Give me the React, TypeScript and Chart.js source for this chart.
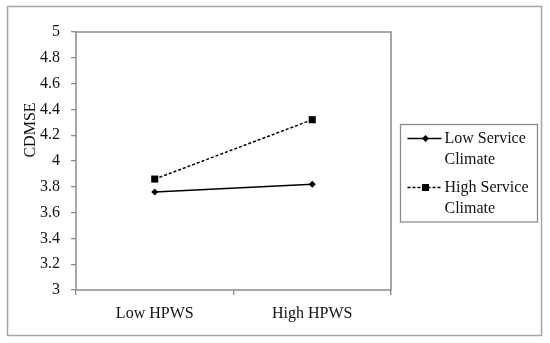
import React, { useEffect, useRef } from "react";
import { Chart, registerables } from "chart.js";

Chart.register(...registerables);

// ---- data ----
const categories = ["Low HPWS", "High HPWS"];
const lowServiceClimate = [3.76, 3.82];
const highServiceClimate = [3.86, 4.32];
const seriesNames = ["Low Service Climate", "High Service Climate"];
const legendLines = [
  ["Low Service", "Climate"],
  ["High Service", "Climate"],
];
const yTitle = "CDMSE";
const yMin = 3;
const yMax = 5;
const yStep = 0.2;

const FONT_FAMILY = "'Liberation Serif', 'Times New Roman', serif";
const GRAY = "#8a8a8a";
const FRAME_GRAY = "#a6a6a6";
const TEXT = "#111111";

function drawDiamond(ctx: CanvasRenderingContext2D, x: number, y: number, r: number) {
  ctx.beginPath();
  ctx.moveTo(x, y - r);
  ctx.lineTo(x + r, y);
  ctx.lineTo(x, y + r);
  ctx.lineTo(x - r, y);
  ctx.closePath();
  ctx.fill();
}

function drawSquare(ctx: CanvasRenderingContext2D, x: number, y: number, half: number) {
  ctx.fillRect(x - half, y - half, half * 2, half * 2);
}

const decor = {
  id: "decor",
  beforeDraw(chart: any) {
    const { ctx, width, height } = chart;
    ctx.save();
    ctx.fillStyle = "#ffffff";
    ctx.fillRect(0, 0, width, height);
    ctx.restore();
  },
  beforeDatasetsDraw(chart: any) {
    const { ctx, chartArea: a } = chart;
    ctx.save();
    ctx.strokeStyle = GRAY;
    ctx.lineWidth = 1.5;
    ctx.strokeRect(a.left, a.top, a.right - a.left, a.bottom - a.top);
    ctx.restore();
  },
  afterDraw(chart: any) {
    const { ctx, chartArea: a, width, height } = chart;
    ctx.save();
    // outer frame
    ctx.strokeStyle = FRAME_GRAY;
    ctx.lineWidth = 1.5;
    ctx.strokeRect(7.5, 6.5, width - 16, height - 14);

    // y axis title (Excel-style, above centre)
    ctx.fillStyle = TEXT;
    ctx.font = `16px ${FONT_FAMILY}`;
    ctx.textAlign = "center";
    ctx.textBaseline = "middle";
    ctx.save();
    ctx.translate(30.5, a.top + 98);
    ctx.rotate(-Math.PI / 2);
    ctx.fillText(yTitle, 0, 0);
    ctx.restore();

    // legend
    const L = a.right + 9.5;
    const T = 124.5;
    const W = 137;
    const H = 97.5;
    ctx.strokeStyle = GRAY;
    ctx.lineWidth = 1.3;
    ctx.strokeRect(L, T, W, H);

    const rows = [
      { y: T + 14, dash: [] as number[], marker: "diamond" },
      { y: T + 63, dash: [3, 2], marker: "square" },
    ];
    rows.forEach((row, i) => {
      ctx.strokeStyle = "#000";
      ctx.fillStyle = "#000";
      ctx.lineWidth = 1.5;
      ctx.setLineDash(row.dash);
      ctx.beginPath();
      ctx.moveTo(L + 7, row.y);
      ctx.lineTo(L + 41, row.y);
      ctx.stroke();
      ctx.setLineDash([]);
      if (row.marker === "diamond") drawDiamond(ctx, L + 25, row.y, 3.5);
      else drawSquare(ctx, L + 25, row.y, 3.5);
      ctx.fillStyle = TEXT;
      ctx.textAlign = "left";
      ctx.textBaseline = "middle";
      ctx.font = `16px ${FONT_FAMILY}`;
      legendLines[i].forEach((t, j) => {
        ctx.fillText(t, L + 44, row.y + j * 21);
      });
    });
    ctx.restore();
  },
};

export default function App() {
  const ref = useRef<HTMLCanvasElement | null>(null);

  useEffect(() => {
    if (!ref.current) return;
    const chart = new Chart(ref.current, {
      type: "line",
      data: {
        labels: categories,
        datasets: [
          {
            label: seriesNames[0],
            data: lowServiceClimate,
            borderColor: "#000",
            backgroundColor: "#000",
            borderWidth: 1.5,
            pointStyle: "rectRot",
            pointRadius: 3.5,
            pointBorderWidth: 0,
            pointBackgroundColor: "#000",
            tension: 0,
          },
          {
            label: seriesNames[1],
            data: highServiceClimate,
            borderColor: "#000",
            backgroundColor: "#000",
            borderWidth: 1.5,
            borderDash: [3, 2],
            pointStyle: "rect",
            pointRadius: 5,
            pointBorderWidth: 0,
            pointBackgroundColor: "#000",
            tension: 0,
          },
        ],
      },
      options: {
        responsive: false,
        animation: false,
        devicePixelRatio: 1,
        layout: { padding: { top: 32, left: 0, right: 159, bottom: 0 } },
        plugins: {
          legend: { display: false },
          tooltip: { enabled: false },
          title: { display: false },
        },
        scales: {
          x: {
            type: "category",
            offset: true,
            grid: {
              offset: true,
              drawOnChartArea: false,
              drawTicks: true,
              tickLength: 5,
              color: GRAY,
              lineWidth: 1.3,
            },
            border: { display: false },
            ticks: {
              color: TEXT,
              padding: 9,
              font: { family: FONT_FAMILY, size: 16 },
              maxRotation: 0,
            },
            afterFit: (s: any) => {
              s.height = 53;
            },
          },
          y: {
            min: yMin,
            max: yMax,
            grid: {
              drawOnChartArea: false,
              drawTicks: true,
              tickLength: 5,
              color: GRAY,
              lineWidth: 1.3,
            },
            border: { display: false },
            ticks: {
              stepSize: yStep,
              color: TEXT,
              padding: 11,
              font: { family: FONT_FAMILY, size: 16 },
              callback: (v: any) => String(Number(Number(v).toFixed(1))),
            },
            afterFit: (s: any) => {
              s.width = 76;
            },
          },
        },
      } as any,
      plugins: [decor],
    });
    return () => chart.destroy();
  }, []);

  return (
    <div style={{ position: "fixed", left: 0, top: 0, width: 550, height: 343 }}>
      <canvas ref={ref} width={550} height={343} style={{ display: "block" }} />
    </div>
  );
}
